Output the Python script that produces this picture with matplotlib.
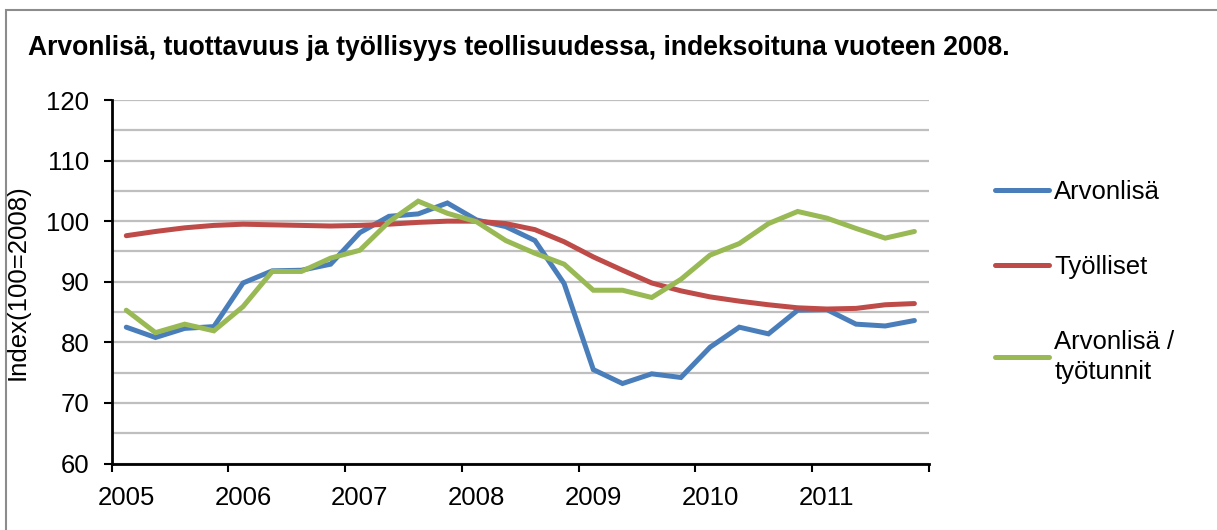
import numpy as np
import matplotlib.pyplot as plt
from matplotlib.patches import Rectangle

plt.rcParams['font.family'] = ['Liberation Sans', 'DejaVu Sans']

# quarterly data 2005Q1 - 2011Q4, index 2008 = 100
years = ['2005', '2006', '2007', '2008', '2009', '2010', '2011']
arvonlisa = [82.5, 80.8, 82.3, 82.6, 89.8, 91.8, 91.9, 92.9,
             98.1, 100.8, 101.2, 103.0, 100.2, 99.1, 96.8, 89.7,
             75.5, 73.2, 74.8, 74.2, 79.2, 82.5, 81.4, 85.3,
             85.4, 83.0, 82.7, 83.6]
tyolliset = [97.6, 98.3, 98.9, 99.3, 99.5, 99.4, 99.3, 99.2,
             99.3, 99.5, 99.8, 100.0, 100.0, 99.6, 98.6, 96.6,
             94.1, 91.9, 89.8, 88.5, 87.5, 86.8, 86.2, 85.7,
             85.5, 85.6, 86.2, 86.4]
tuottavuus = [85.3, 81.6, 83.0, 81.9, 85.9, 91.7, 91.7, 93.9,
              95.2, 99.9, 103.3, 101.3, 99.9, 96.8, 94.7, 92.9,
              88.6, 88.6, 87.4, 90.4, 94.4, 96.3, 99.6, 101.6,
              100.5, 98.8, 97.2, 98.3]

labels = ['Arvonlisä', 'Työlliset', 'Arvonlisä /\ntyötunnit']
colors = ['#4a7ebb', '#be4b48', '#98b954']

W, H = 1217, 530
fig = plt.figure(figsize=(W / 100, H / 100), dpi=100)
ax = fig.add_axes([111.7 / W, 1 - 463.5 / H, (929 - 111.7) / W, (463.5 - 100) / H])

x = np.arange(len(arvonlisa)) + 0.5
for vals, lab, c in zip([arvonlisa, tyolliset, tuottavuus], labels, colors):
    ax.plot(x, vals, color=c, lw=3.6, label=lab, solid_capstyle='round', solid_joinstyle='miter')

ax.set_xlim(0, len(arvonlisa))
ax.set_ylim(60, 120)

# y axis
ax.set_yticks(np.arange(60, 121, 10))
ax.set_yticks(np.arange(65, 120, 10), minor=True)
ax.grid(True, axis='y', which='both', color='#bfbfbf', lw=1.6)
ax.set_axisbelow(True)
ax.tick_params(axis='y', which='major', labelsize=18.5, length=6, width=1.5, pad=10, direction='out')
ax.tick_params(axis='y', which='minor', length=0)

# x axis: ticks at year boundaries, labels at first quarter
ax.set_xticks(np.arange(0, len(arvonlisa) + 1, 4))
ax.set_xticklabels([])
ax.set_xticks(np.arange(0, len(arvonlisa), 4) + 0.5, minor=True)
ax.set_xticklabels(years, minor=True)
ax.tick_params(axis='x', which='major', length=6, width=1.5, direction='out')
ax.tick_params(axis='x', which='minor', length=0, labelsize=18.5, pad=16)

for s in ['top', 'right']:
    ax.spines[s].set_visible(False)
for s in ['left', 'bottom']:
    ax.spines[s].set_linewidth(2)
    ax.spines[s].set_color('black')

ax.set_ylabel('Index(100=2008)', fontsize=18.5)
ax.yaxis.set_label_coords(-(111.7 - 30) / (929 - 111.7), 0.5)

leg = ax.legend(loc='upper left', bbox_to_anchor=(985 / W, 1 - 170 / H),
                bbox_transform=fig.transFigure, frameon=False, fontsize=18.5,
                handlelength=2.1, handletextpad=0.2, labelspacing=1.98,
                borderaxespad=0)
for t in leg.get_texts():
    t.set_linespacing(1.3)

fig.text(28 / W, 1 - 48 / H, 'Arvonlisä, tuottavuus ja työllisyys teollisuudessa, indeksoituna vuoteen 2008.',
         fontsize=19.1, fontweight='bold', va='center', ha='left')

fig.patches.append(Rectangle((6 / W, -0.1), 1.2, 1 - 10 / H + 0.1, transform=fig.transFigure,
                             fill=False, edgecolor='#8c8c8c', lw=1.5))

fig.savefig('out.png', dpi=100)
